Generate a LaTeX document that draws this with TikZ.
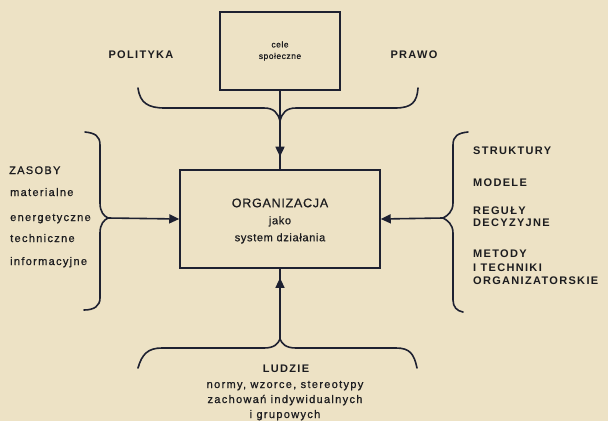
\documentclass[tikz,border=0pt]{standalone}
\usepackage{fontspec}
\setmainfont{Liberation Sans}[LetterSpace=12]
\newfontfamily\regtxt{Liberation Sans}[LetterSpace=12, FakeBold=0.8]
\newfontfamily\boxtxt{Liberation Sans}[LetterSpace=6, FakeBold=0.6]
\usetikzlibrary{arrows.meta,decorations.markings}
\definecolor{paper}{HTML}{EDE2C5}
\definecolor{ink}{HTML}{1E2131}
\definecolor{txt}{HTML}{1C1C1F}
\begin{document}
\begin{tikzpicture}[x=1pt,y=-1pt,
  box/.style={draw=ink, line width=1.5pt, inner sep=0pt, align=center, text=txt},
  brace/.style={draw=ink, line width=1.6pt, line cap=round},
  link/.style={draw=ink, line width=1.6pt},
  head/.style={-{Triangle[length=10pt,width=9pt]}},
  midhead/.style={postaction={decorate}, decoration={markings,
      mark=at position #1 with {\arrow[ink]{Triangle[length=10pt,width=9pt]}}}},
  lbl/.style={text=txt, inner sep=0pt, font=\fontsize{11}{13}\selectfont\bfseries},
  capslbl/.style={text=txt, inner sep=0pt, font=\regtxt\fontsize{11}{13}\selectfont},
  sm/.style={text=txt, inner sep=0pt, font=\regtxt\fontsize{11}{12}\selectfont}]
\fill[paper] (0,0) rectangle (608,421);
\useasboundingbox (0,0) rectangle (608,421);

% boxes
\node[box, minimum width=120pt, minimum height=78pt,
      font=\boxtxt\fontsize{8.5}{11.5}\selectfont] (cele) at (280,51) {cele\\społeczne};
\node[box, minimum width=200pt, minimum height=98pt] (org) at (280,219) {};
\node[text=txt, align=center, inner sep=0pt,
      font=\boxtxt\fontsize{11}{17}\selectfont] (orglbl) at (280,221)
  {{\fontsize{12.5}{17}\selectfont ORGANIZACJA}\\jako\\system działania};

% top labels
\node[lbl] (polityka) at (141,55) {POLITYKA};
\node[lbl] (prawo) at (414,55) {PRAWO};

% brace tips
\coordinate (tTip) at (280,121);
\coordinate (lTip) at (108,218);
\coordinate (rTip) at (443,218);
\coordinate (bTip) at (280,339);

% top brace
\draw[brace] (138,88) .. controls (140,103) and (148,108) .. (165,108) -- (264,108)
  .. controls (274,108) and (278,113) .. (tTip)
  .. controls (282,113) and (286,108) .. (296,108) -- (395,108)
  .. controls (412,108) and (417,102) .. (418,88);
% left brace
\draw[brace] (85,132) .. controls (95,133) and (100,136) .. (100,145) -- (100,203)
  .. controls (100,212) and (104,216) .. (lTip)
  .. controls (104,220) and (100,224) .. (100,233) -- (100,298)
  .. controls (100,306) and (94,310) .. (84,310);
% right brace
\draw[brace] (468,132) .. controls (458,133) and (453,136) .. (453,145) -- (453,203)
  .. controls (453,212) and (447,216) .. (rTip)
  .. controls (447,220) and (453,224) .. (453,233) -- (453,300)
  .. controls (453,307) and (457,311) .. (463,312);
% bottom brace
\draw[brace] (138,368) .. controls (142,354) and (148,348) .. (162,348) -- (264,348)
  .. controls (274,348) and (278,344) .. (bTip)
  .. controls (282,344) and (286,348) .. (296,348) -- (396,348)
  .. controls (410,348) and (414,354) .. (417,368);

% connectors
\draw[link, midhead=0.84] (cele.south) -- (org.north);
\draw[link, head] (lTip) -- (org.west);
\draw[link, head] (rTip) -- (org.east);
\draw[link, midhead=0.87] (bTip) -- (org.south);

% resources
\node[capslbl, anchor=base west] (zasoby) at (9,174) {ZASOBY};
\node[sm, anchor=base west] (mat) at (10,196) {materialne};
\node[sm, anchor=base west] (ener) at (10,221) {energetyczne};
\node[sm, anchor=base west] (tech) at (10,242) {techniczne};
\node[sm, anchor=base west] (info) at (10,265) {informacyjne};

% organisational means
\node[lbl, anchor=base west] (strukt) at (473,154) {STRUKTURY};
\node[lbl, anchor=base west] (modele) at (473,186) {MODELE};
\node[lbl, anchor=base west] (reguly) at (473,214) {REGUŁY};
\node[lbl, anchor=base west] (decyz) at (473,226) {DECYZYJNE};
\node[lbl, anchor=base west] (metody) at (473,257) {METODY};
\node[lbl, anchor=base west] (techn) at (473,271) {I TECHNIKI};
\node[lbl, anchor=base west] (orgsk) at (473,284) {ORGANIZATORSKIE};

% people
\node[lbl, anchor=base] (ludzie) at (286,372) {LUDZIE};
\node[sm, anchor=base] (normy) at (285,388) {normy, wzorce, stereotypy};
\node[sm, anchor=base] (zach) at (285,403) {zachowań indywidualnych};
\node[sm, anchor=base] (grup) at (285,418) {i grupowych};
\end{tikzpicture}
\end{document}
